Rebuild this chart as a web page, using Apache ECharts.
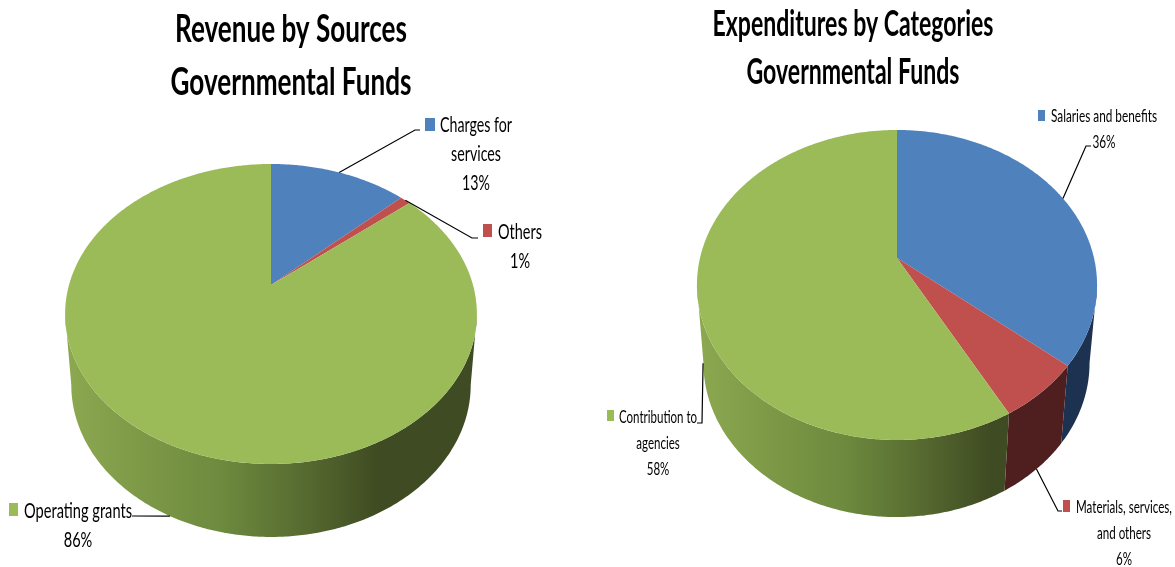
<!DOCTYPE html>
<html>
<head>
<meta charset="utf-8">
<style>html,body{margin:0;padding:0;background:#fff}#chart{width:1175px;height:567px}</style>
<script src="https://cdn.jsdelivr.net/npm/echarts@6/dist/echarts.min.js"></script>
</head>
<body>
<div id="chart"></div>
<script>
// Shares in percent, clockwise from twelve o'clock
const revenueCategories = ['Charges for services', 'Others', 'Operating grants'];
const revenueShares = [13, 1, 86];
const expenditureCategories = ['Salaries and benefits', 'Materials, services, and others', 'Contribution to agencies'];
const expenditureShares = [36, 6, 58];

const faceColors = ['#4f81bd', '#c0504d', '#9bbb59'];
const wallColors = ['#1d3250', '#4f1f1f', null];
const FONT = 'Lato, "Open Sans", sans-serif';

// Condensed headings: each line is squeezed to a set width
const headings = [
  { text: 'Revenue by Sources', x: 291, y: 30, size: 38, width: 232 },
  { text: 'Governmental Funds', x: 291, y: 83, size: 38, width: 241 },
  { text: 'Expenditures by Categories', x: 853, y: 24, size: 36, width: 281 },
  { text: 'Governmental Funds', x: 853, y: 72, size: 36, width: 213 }
];

// Perspective disc geometry and label placement for each pie
const revenueLayout = {
  cx: 271, apexY: 285, A: 202, B: 144.4, k: 0.1933,
  ellipseY: 314, lowerCx: 271, lowerY: 385, shrink: 0.97, shrinkY: 1.013,
  greenDark: 0.76,
  fontSize: 21, gap: 29,
  labels: [
    { lines: ['Charges for', 'services', '13%'], x: 476, y: 125, textWidth: 72, swatch: [425, 118, 10, 13], knee: [[415, 130], [420, 130]], depth: 0 },
    { lines: ['Others', '1%'], x: 520, y: 232, textWidth: 44, swatch: [483, 224, 9, 13], knee: [[472, 238], [478, 238]], depth: 0 },
    { lines: ['Operating grants', '86%'], x: 78, y: 511, textWidth: 108, swatch: [9, 503, 9, 13], knee: [[132, 516]], depth: 1 }
  ]
};
const expenditureLayout = {
  cx: 897, apexY: 258, A: 197, B: 150.3, k: 0.174,
  ellipseY: 285, lowerCx: 896.5, lowerY: 363, shrink: 0.965, shrinkY: 0.994,
  greenDark: 0.94,
  fontSize: 18, gap: 26,
  labels: [
    { lines: ['Salaries and benefits', '36%'], x: 1104, y: 116, textWidth: 106, swatch: [1038, 110, 7, 11], knee: [[1086, 146], [1091, 146]], depth: 0 },
    { lines: ['Materials, services,', 'and others', '6%'], x: 1124, y: 507, textWidth: 96, swatch: [1063, 500, 7, 12], knee: [[1058, 511], [1062, 511]], depth: 1 },
    { lines: ['Contribution to', 'agencies', '58%'], x: 658, y: 417, textWidth: 78, swatch: [607, 410, 7, 11], knee: [[702, 423], [697, 423]], depth: 0.85 }
  ]
};

const TAU = Math.PI * 2;
const measureCtx = document.createElement('canvas').getContext('2d');

function squeeze(text, font, width) {
  measureCtx.font = font;
  return width / measureCtx.measureText(text).width;
}

// Upper-rim point for a clockwise angle, then optionally dropped down the wall
function rimPoint(g, theta, depth) {
  const u = Math.sin(theta), v = Math.cos(theta), w = 1 + g.k * v;
  const x = g.cx + g.A * u / w;
  const y = g.apexY - g.B * v / w;
  const lx = g.lowerCx + (x - g.cx) * g.shrink;
  const ly = g.lowerY + (y - g.ellipseY) * g.shrinkY;
  return [x + (lx - x) * depth, y + (ly - y) * depth];
}

function arcPoints(g, a, b, depth) {
  const n = Math.max(2, Math.ceil((b - a) / 0.01));
  const pts = [];
  for (let i = 0; i <= n; i++) pts.push(rimPoint(g, a + (b - a) * i / n, depth));
  return pts;
}

function wallFill(g, index) {
  if (wallColors[index]) return wallColors[index];
  const d = g.greenDark;
  return new echarts.graphic.LinearGradient(0, 0, 1, 0, [
    { offset: 0, color: '#8ca850' },
    { offset: d * 0.5, color: '#6d8a3e' },
    { offset: d * 0.75, color: '#586c31' },
    { offset: d, color: '#3f4b22' },
    { offset: 1, color: '#3f4b22' }
  ]);
}

function makeSeries(name, categories, shares, g) {
  const total = shares.reduce((s, v) => s + v, 0);
  const starts = [];
  shares.reduce((s, v, i) => (starts[i] = s, s + v), 0);
  // Only the arc facing the viewer shows a wall
  const frontFrom = Math.acos(-g.k), frontTo = TAU - frontFrom;
  const labelFont = g.fontSize + 'px ' + FONT;

  return {
    type: 'custom',
    name,
    coordinateSystem: 'none',
    silent: true,
    animation: false,
    clip: false,
    data: shares.map((v, i) => ({ name: categories[i], value: [v, starts[i]] })),
    renderItem(params, api) {
      const i = params.dataIndex;
      const a = api.value(1) / total * TAU;
      const b = a + api.value(0) / total * TAU;
      const children = [];

      const wa = Math.max(a, frontFrom), wb = Math.min(b, frontTo);
      if (wb > wa) {
        const top = arcPoints(g, wa, wb, 0);
        const low = arcPoints(g, wa, wb, 1).reverse();
        children.push({
          type: 'polygon', z2: 1,
          shape: { points: top.concat(low) },
          style: { fill: wallFill(g, i) }
        });
      }

      children.push({
        type: 'polygon', z2: 2,
        shape: { points: [[g.cx, g.apexY]].concat(arcPoints(g, a, b, 0)) },
        style: { fill: faceColors[i] }
      });

      const lab = g.labels[i];
      const scale = squeeze(lab.lines[0], labelFont, lab.textWidth);
      children.push({
        type: 'polyline', z2: 3,
        shape: { points: [rimPoint(g, (a + b) / 2, lab.depth)].concat(lab.knee) },
        style: { fill: null, stroke: '#000', lineWidth: 1.2 }
      });
      children.push({
        type: 'rect', z2: 3,
        shape: { x: lab.swatch[0], y: lab.swatch[1], width: lab.swatch[2], height: lab.swatch[3] },
        style: { fill: faceColors[i] }
      });
      lab.lines.forEach((line, n) => {
        children.push({
          type: 'text', z2: 4,
          x: lab.x, y: lab.y + n * g.gap,
          scaleX: scale,
          style: { text: line, fill: '#000', align: 'center', verticalAlign: 'middle', font: labelFont }
        });
      });
      return { type: 'group', children };
    }
  };
}

const chart = echarts.init(document.getElementById('chart'), null, { renderer: 'canvas' });
chart.setOption({
  backgroundColor: '#fff',
  animation: false,
  graphic: headings.map(h => {
    const font = 'bold ' + h.size + 'px ' + FONT;
    return {
      type: 'text', x: h.x, y: h.y, scaleX: squeeze(h.text, font, h.width),
      style: { text: h.text, fill: '#000', align: 'center', verticalAlign: 'middle', font }
    };
  }),
  series: [
    makeSeries('Revenue', revenueCategories, revenueShares, revenueLayout),
    makeSeries('Expenditures', expenditureCategories, expenditureShares, expenditureLayout)
  ]
});
</script>
</body>
</html>
